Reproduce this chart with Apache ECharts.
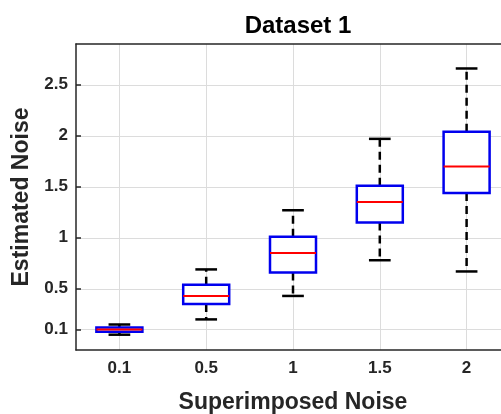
<!DOCTYPE html>
<html>
<head>
<meta charset="utf-8">
<script src="https://cdn.jsdelivr.net/npm/echarts@6/dist/echarts.min.js"></script>
<style>
html, body { margin: 0; padding: 0; background: #fff; }
#container { width: 501px; height: 414px; }
</style>
</head>
<body>
<div id="container"></div>
<script>
// 数据
var categories = ['0.1', '0.5', '1', '1.5', '2'];
var mins    = [0.05, 0.20, 0.43, 0.78, 0.67];
var q1s     = [0.08, 0.35, 0.66, 1.15, 1.44];
var medians = [0.10, 0.43, 0.85, 1.35, 1.70];
var q3s     = [0.12, 0.54, 1.01, 1.51, 2.04];
var maxs    = [0.15, 0.69, 1.27, 1.97, 2.66];
var yTicks  = [0.1, 0.5, 1, 1.5, 2, 2.5];

var textColor = '#262626';
var fontName = '"Liberation Sans", Arial, sans-serif';

var boxData = [];
for (var i = 0; i < categories.length; i++) {
    boxData.push([i, mins[i], q1s[i], medians[i], q3s[i], maxs[i]]);
}

// 画一个箱子
function renderBox(params, api) {
    var x = api.value(0);
    var pMin = api.coord([x, api.value(1)]);
    var pQ1 = api.coord([x, api.value(2)]);
    var pMed = api.coord([x, api.value(3)]);
    var pQ3 = api.coord([x, api.value(4)]);
    var pMax = api.coord([x, api.value(5)]);
    var band = api.size([1, 0])[0];
    var halfBox = band * 0.265;
    var halfCap = band * 0.125;
    var cx = pMed[0];
    var whisker = { stroke: '#000', lineWidth: 2.5, lineDash: [8, 5] };
    var cap = { stroke: '#000', lineWidth: 2.5 };
    return {
        type: 'group',
        children: [
            { type: 'line', shape: { x1: cx, y1: pQ3[1], x2: cx, y2: pMax[1] }, style: whisker },
            { type: 'line', shape: { x1: cx, y1: pQ1[1], x2: cx, y2: pMin[1] }, style: whisker },
            { type: 'line', shape: { x1: cx - halfCap, y1: pMax[1], x2: cx + halfCap, y2: pMax[1] }, style: cap },
            { type: 'line', shape: { x1: cx - halfCap, y1: pMin[1], x2: cx + halfCap, y2: pMin[1] }, style: cap },
            {
                type: 'rect',
                shape: { x: cx - halfBox, y: pQ3[1], width: halfBox * 2, height: pQ1[1] - pQ3[1] },
                style: { fill: '#fff', stroke: '#0000ee', lineWidth: 2.5 }
            },
            {
                type: 'line',
                shape: { x1: cx - halfBox, y1: pMed[1], x2: cx + halfBox, y2: pMed[1] },
                style: { stroke: '#ff0000', lineWidth: 2 }
            }
        ]
    };
}

var dom = document.getElementById("container");
var myChart = echarts.init(dom);
var option = {
    animation: false,
    backgroundColor: '#fff',
    title: {
        text: 'Dataset 1',
        left: 293,
        textAlign: 'center',
        top: 9,
        textStyle: { fontFamily: fontName, fontSize: 24, fontWeight: 'bold', color: '#000' }
    },
    grid: { left: 76, top: 44, right: -9, bottom: 64, outerBoundsMode: 'none', containLabel: false },
    xAxis: [{
        type: 'category',
        data: categories,
        boundaryGap: true,
        name: 'Superimposed Noise',
        nameLocation: 'middle',
        nameGap: 41,
        nameTextStyle: { fontFamily: fontName, fontSize: 23, fontWeight: 'bold', color: textColor },
        axisLine: { onZero: false, lineStyle: { color: textColor, width: 1.5 } },
        axisTick: { inside: true, alignWithLabel: true, length: 5, lineStyle: { color: textColor, width: 1.5 } },
        axisLabel: { margin: 10, fontFamily: fontName, fontSize: 17, fontWeight: 'bold', color: textColor },
        splitLine: { show: true, alignWithLabel: true, lineStyle: { color: '#dcdcdc', width: 1 } }
    }, {
        type: 'category',
        data: categories,
        position: 'top',
        boundaryGap: true,
        axisLine: { onZero: false, lineStyle: { color: textColor, width: 1.5 } },
        axisTick: { inside: true, alignWithLabel: true, length: 5, lineStyle: { color: textColor, width: 1.5 } },
        axisLabel: { show: false },
        splitLine: { show: false }
    }],
    yAxis: {
        type: 'value',
        min: -0.1,
        max: 2.9,
        name: 'Estimated Noise',
        nameLocation: 'middle',
        nameGap: 40,
        nameTextStyle: { fontFamily: fontName, fontSize: 23, fontWeight: 'bold', color: textColor },
        axisLine: { show: true, onZero: false, lineStyle: { color: textColor, width: 1.5 } },
        axisTick: { show: true, inside: true, length: 5, customValues: yTicks, lineStyle: { color: textColor, width: 1.5 } },
        axisLabel: { margin: 8, customValues: yTicks, fontFamily: fontName, fontSize: 17, fontWeight: 'bold', color: textColor },
        splitLine: { show: true, lineStyle: { color: '#dcdcdc', width: 1 } }
    },
    series: [{
        type: 'custom',
        renderItem: renderBox,
        encode: { x: 0, y: [1, 2, 3, 4, 5] },
        data: boxData,
        clip: false
    }]
};
myChart.setOption(option);
</script>
</body>
</html>
